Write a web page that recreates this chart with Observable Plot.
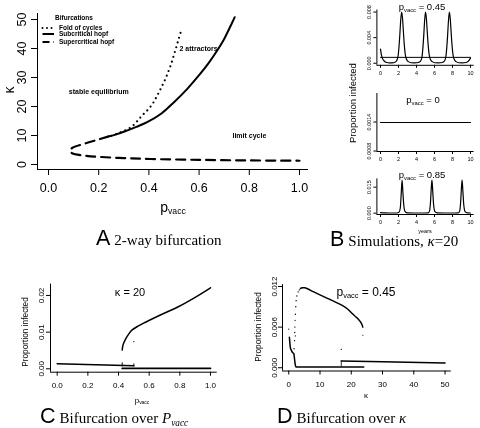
<!DOCTYPE html>
<html>
<head>
<meta charset="utf-8">
<script src="https://cdn.jsdelivr.net/npm/d3@7"></script>
<script src="https://cdn.jsdelivr.net/npm/@observablehq/plot@0.6"></script>
<style>
html,body{margin:0;padding:0;background:#fff;}
#fig{position:relative;width:480px;height:428px;overflow:hidden;background:#fff;color:#000;font-family:"Liberation Sans",Arial,sans-serif;filter:grayscale(1);}
.panel{position:absolute;}
.panel svg{overflow:visible;}
.t{position:absolute;white-space:nowrap;line-height:1;}
.cap{position:absolute;white-space:nowrap;line-height:1;display:flex;align-items:baseline;transform:translateY(-50%);}
.cap .L{font-family:"Liberation Sans",Arial,sans-serif;font-size:21.5px;margin-right:4px;}
.cap .s{font-family:"Liberation Serif","DejaVu Serif",serif;font-size:15px;}
sub{font-size:0.62em;vertical-align:-0.25em;line-height:0;}
</style>
</head>
<body>
<div id="fig"></div>
<script>
// ---------------- DATA ----------------
// Panel A: two-way bifurcation (p_vacc, kappa)
const aXTicks = [0, 0.2, 0.4, 0.6, 0.8, 1.0];
const aYTicks = [0, 10, 20, 30, 40, 50];
const foldCycles = [[0.25,9.9],[0.28,10.8],[0.31,12.0],[0.333,13.1],[0.353,14.9],[0.373,16.9],[0.393,18.6],[0.413,20.7],[0.426,22.6],[0.440,24.9],[0.453,27.2],[0.466,29.5],[0.479,32.4],[0.489,34.7],[0.499,37.6],[0.509,40.4],[0.517,42.8],[0.526,45.4]];
const subcriticalHopf = [[0.24,9.7],[0.27,10.4],[0.30,11.3],[0.35,13.0],[0.393,14.6],[0.45,17.6],[0.50,21.5],[0.553,26.1],[0.605,31.3],[0.64,35.2],[0.672,39.3],[0.70,43.3],[0.72,46.8],[0.742,50.8]];
const supercriticalHopf = [[0.24,9.7],[0.194,8.5],[0.141,7.1],[0.094,5.7],[0.085,4.8],[0.094,3.9],[0.15,3.0],[0.207,2.6],[0.3,2.2],[0.406,1.9],[0.6,1.6],[0.8,1.4],[1.0,1.3]];
const regionLabels = [
  {x: 0.522, y: 40.0, text: "2 attractors"},
  {x: 0.081, y: 25.2, text: "stable equilibrium"},
  {x: 0.733, y: 10.0, text: "limit cycle"}
];
const legendTitle = "Bifurcations";
const legendItems = ["Fold of cycles", "Subcritical hopf", "Supercritical hopf"];

// Panel B: simulations, kappa = 20 (years, proportion infected)
const yearTicks = [0, 2, 4, 6, 8, 10];
const sim045 = [[0,0.0022],[0.1,0.0013],[0.2,0.0008],[0.35,0.00045],[0.5,0.00025],[0.7,0.00012],[1.0,0.00006],[1.3,0.00006],[1.6,0.00015],[1.8,0.0004],[1.95,0.0011],[2.05,0.0025],[2.15,0.0045],[2.25,0.0068],[2.35,0.0080],[2.45,0.0070],[2.55,0.0048],[2.65,0.0028],[2.75,0.0014],[2.9,0.0006],[3.1,0.00025],[3.4,0.00008],[3.8,0.00006],[4.2,0.00012],[4.45,0.00035],[4.6,0.0009],[4.7,0.0022],[4.8,0.0042],[4.9,0.0066],[5.0,0.0080],[5.1,0.0070],[5.2,0.0048],[5.3,0.0028],[5.4,0.0014],[5.55,0.0006],[5.75,0.00025],[6.05,0.00008],[6.45,0.00006],[6.85,0.00012],[7.1,0.00035],[7.25,0.0009],[7.35,0.0022],[7.45,0.0042],[7.55,0.0066],[7.65,0.0080],[7.75,0.0070],[7.85,0.0048],[7.95,0.0028],[8.05,0.0014],[8.2,0.0006],[8.4,0.00025],[8.7,0.00008],[9.1,0.00006],[9.5,0.00012],[9.75,0.0003],[10,0.0008]];
const sim045Equilibrium = [[0,0.00092],[10,0.00092]];
const sim045YTicks = [0, 0.004, 0.008];
const sim0 = [[0,0.00139],[10,0.00139]];
const sim0YTicks = [0.0008, 0.0014];
const sim085 = [[0,0.0003],[0.5,0.00015],[1.0,0.0001],[1.8,0.0001],[2.05,0.0005],[2.2,0.003],[2.3,0.011],[2.4,0.019],[2.5,0.011],[2.6,0.004],[2.75,0.0008],[3.0,0.0002],[4.5,0.0001],[5.3,0.0002],[5.45,0.0012],[5.55,0.006],[5.65,0.015],[5.72,0.019],[5.8,0.013],[5.9,0.005],[6.05,0.0009],[6.3,0.0002],[7.8,0.0001],[8.65,0.0002],[8.8,0.0012],[8.9,0.006],[9.0,0.015],[9.07,0.019],[9.15,0.013],[9.25,0.005],[9.4,0.0009],[9.65,0.0002],[10,0.0001]];
const sim085YTicks = [0, 0.015];

// Panel C: bifurcation over p_vacc (kappa = 20)
const cXTicks = [0, 0.2, 0.4, 0.6, 0.8, 1.0];
const cYTicks = [0, 0.01, 0.02];
const cEquilibrium = [[0,0.0014],[0.25,0.0011],[0.5,0.0008]];
const cCycleMax = [[0.424,0.0051],[0.43,0.0066],[0.446,0.0081],[0.465,0.0094],[0.489,0.0106],[0.53,0.0117],[0.576,0.0127],[0.68,0.0148],[0.793,0.0170],[0.9,0.0195],[1.0,0.0221]];
const cCycleMin = [[0.424,0.0001],[1.0,0.0001]];
const cTransients = [{x:0.424, y1:0.0005, y2:0.0016},{x:0.5, y1:0.0005, y2:0.0013}];
const cStray = [[0.5,0.0074]];

// Panel D: bifurcation over kappa (p_vacc = 0.45)
const dXTicks = [0, 10, 20, 30, 40, 50];
const dYTicks = [0, 0.006, 0.012];
const dCycleMax = [[3.74,0.0117],[4.3,0.0118],[5.1,0.0118],[8,0.0112],[11.7,0.0104],[14.5,0.0098],[17.1,0.0092],[19,0.0086],[20.3,0.0080],[21.5,0.0075],[22.4,0.0071],[23.2,0.0066],[23.7,0.0060]];
const dLowBranch = [[0.2,0.0045],[0.35,0.0037],[0.5,0.0030],[0.9,0.0025],[1.3,0.0022],[1.6,0.0021],[1.9,0.0011],[2.1,0.0004],[2.36,0.0001],[24,0.0001]];
const dEquilibrium = [[16.8,0.0010],[30,0.0009],[50,0.0007]];
const dRise = [[1.7,0.0028],[1.85,0.0040],[1.92,0.0052],[1.95,0.0060],[2.02,0.0070],[2.14,0.0079],[2.25,0.0090],[2.36,0.0099],[2.6,0.0106],[3.0,0.0112],[3.4,0.0115]];
const dStray = [[0,0.0057],[2.1,0.0047],[16.8,0.0027],[23.7,0.0048]];
const dTransients = [{x:16.8, y1:0.0001, y2:0.0010}];

// ---------------- LAYOUT HELPERS ----------------
const SANS = '"Liberation Sans", Arial, sans-serif';
const fig = document.getElementById("fig");
const X = d => d[0], Y = d => d[1];

function place(node, left, top) {
  const d = document.createElement("div");
  d.className = "panel";
  d.style.left = left + "px";
  d.style.top = top + "px";
  d.appendChild(node);
  fig.appendChild(d);
}
function label(html, x, y, {size = 10, anchor = "middle", rotate = false, weight = "normal"} = {}) {
  const d = document.createElement("div");
  d.className = "t";
  d.innerHTML = html;
  d.style.left = x + "px";
  d.style.top = y + "px";
  d.style.fontSize = size + "px";
  d.style.fontWeight = weight;
  const tx = anchor === "middle" ? "-50%" : anchor === "end" ? "-100%" : "0";
  d.style.transform = rotate ? "translate(-50%,-50%) rotate(-90deg)" : `translate(${tx},-50%)`;
  fig.appendChild(d);
}
function caption(letter, html, left, cy) {
  const d = document.createElement("div");
  d.className = "cap";
  d.style.left = left + "px";
  d.style.top = cy + "px";
  d.innerHTML = `<span class="L">${letter}</span><span class="s">${html}</span>`;
  fig.appendChild(d);
}

function rPanel({width, height, margins, xDomain, yDomain, xTicks, yTicks, xFmt, yFmt, fontSize, tickSize, xPad, yPad, marks}) {
  const [t, r, b, l] = margins;
  return Plot.plot({
    width, height, marginTop: t, marginRight: r, marginBottom: b, marginLeft: l,
    x: {domain: xDomain, label: null},
    y: {domain: yDomain, label: null},
    style: {fontFamily: SANS, background: "transparent", color: "#000", overflow: "visible", fontSize: fontSize + "px"},
    marks: [
      Plot.ruleY([yDomain[0]], {stroke: "#000", strokeWidth: 1}),
      Plot.ruleX([xDomain[0]], {stroke: "#000", strokeWidth: 1}),
      Plot.axisX({ticks: xTicks, tickFormat: xFmt, tickSize, tickPadding: xPad, fontSize, label: null}),
      Plot.axisY({ticks: yTicks, tickFormat: yFmt, tickSize, tickPadding: yPad, tickRotate: -90, fontSize, label: null}),
      ...marks
    ]
  });
}

// ---------------- PANEL A ----------------
place(rPanel({
  width: 320, height: 215, margins: [13, 12, 46, 37],
  xDomain: [-0.0438, 1.0359], yDomain: [-1.724, 52.07],
  xTicks: aXTicks, yTicks: aYTicks, xFmt: d3.format(".1f"), yFmt: d3.format("d"),
  fontSize: 12.5, tickSize: 6, xPad: 8, yPad: 6,
  marks: [
    Plot.line(foldCycles, {x: X, y: Y, stroke: "#000", strokeWidth: 2.2, strokeDasharray: "0 5", strokeLinecap: "round", curve: "catmull-rom"}),
    Plot.line(subcriticalHopf, {x: X, y: Y, stroke: "#000", strokeWidth: 2, curve: "catmull-rom"}),
    Plot.line(supercriticalHopf, {x: X, y: Y, stroke: "#000", strokeWidth: 2.2, strokeDasharray: "9 6", curve: "catmull-rom"}),
    Plot.text(regionLabels, {x: "x", y: "y", text: "text", textAnchor: "start", fontWeight: "bold", fontSize: 7, fill: "#000"})
  ]
}), 0, 0);

label("κ", 9, 90, {size: 14, rotate: true});
label("p<sub>vacc</sub>", 173, 207, {size: 14});
label(legendTitle, 55, 18, {size: 6.5, anchor: "start", weight: "bold"});
const swatchDash = ["0 4.5", null, "7 4"];
legendItems.forEach((name, i) => {
  const cy = [27.7, 34.4, 41.8][i];
  const s = document.createElement("div");
  s.className = "t";
  s.style.left = "41px"; s.style.top = (cy - 2) + "px";
  s.innerHTML = `<svg width="14" height="4" style="display:block"><line x1="1.5" y1="2" x2="13" y2="2" stroke="#000" stroke-width="2" ${swatchDash[i] ? `stroke-dasharray="${swatchDash[i]}" stroke-linecap="${i === 0 ? "round" : "butt"}"` : ""}/></svg>`;
  fig.appendChild(s);
  label(name, 59, cy, {size: 6.5, anchor: "start", weight: "bold"});
});

// ---------------- PANEL B ----------------
const bX = [-0.4, 10.4];
const bCommon = {width: 140, xDomain: bX, xTicks: yearTicks, xFmt: d3.format("d"), fontSize: 5.5, tickSize: 3, xPad: 3, yPad: 2.5};
place(rPanel({...bCommon, height: 82, margins: [9.5, 6.4, 17.2, 36.4],
  yDomain: [-0.00032, 0.00832], yTicks: sim045YTicks, yFmt: d3.format(".3f"),
  marks: [
    Plot.line(sim045Equilibrium, {x: X, y: Y, stroke: "#000", strokeWidth: 1}),
    Plot.line(sim045, {x: X, y: Y, stroke: "#000", strokeWidth: 1.2, curve: "monotone-x"})
  ]}), 340, 0);
place(rPanel({...bCommon, height: 80, margins: [11, 6.4, 11, 36.4],
  yDomain: [0.00079, 0.00199], yTicks: sim0YTicks, yFmt: d3.format(".4f"),
  marks: [
    Plot.line(sim0, {x: X, y: Y, stroke: "#000", strokeWidth: 1.2})
  ]}), 340, 82);
place(rPanel({...bCommon, height: 70, margins: [13.4, 6.4, 21, 36.4],
  yDomain: [-0.00076, 0.01976], yTicks: sim085YTicks, yFmt: d3.format(".3f"),
  marks: [
    Plot.line(sim085, {x: X, y: Y, stroke: "#000", strokeWidth: 1.2, curve: "monotone-x"})
  ]}), 340, 165);

label("p<sub>vacc</sub> = 0.45", 422, 7, {size: 9.5});
label("p<sub>vacc</sub> = 0", 423, 100, {size: 9.5});
label("p<sub>vacc</sub> = 0.85", 422, 175, {size: 9.5});
label("Proportion infected", 353, 103, {size: 9.5, rotate: true});
label("years", 425, 231.5, {size: 5.5});

// ---------------- PANEL C ----------------
place(rPanel({
  width: 235, height: 175, margins: [68.6, 18.3, 18.3, 50],
  xDomain: [-0.0437, 1.0437], yDomain: [-0.00093, 0.0231],
  xTicks: cXTicks, yTicks: cYTicks, xFmt: d3.format(".1f"), yFmt: d3.format(".2f"),
  fontSize: 8, tickSize: 4, xPad: 6, yPad: 3,
  marks: [
    Plot.line(cEquilibrium, {x: X, y: Y, stroke: "#000", strokeWidth: 1.5}),
    Plot.line(cCycleMin, {x: X, y: Y, stroke: "#000", strokeWidth: 1.8}),
    Plot.line(cCycleMax, {x: X, y: Y, stroke: "#000", strokeWidth: 1.5, curve: "catmull-rom"}),
    Plot.ruleX(cTransients, {x: "x", y1: "y1", y2: "y2", stroke: "#000", strokeWidth: 1}),
    Plot.dot(cStray, {x: X, y: Y, r: 0.6, fill: "#000", stroke: null})
  ]
}), 0, 215);
label("Proportion infected", 25, 332, {size: 8.3, rotate: true});
label("κ = 20", 130, 292, {size: 11});
label("p<sub>vacc</sub>", 142, 401, {size: 8});

// ---------------- PANEL D ----------------
place(rPanel({
  width: 240, height: 175, margins: [69.1, 29.2, 19.5, 42],
  xDomain: [-2, 52], yDomain: [-0.00048, 0.01228],
  xTicks: dXTicks, yTicks: dYTicks, xFmt: d3.format("d"), yFmt: d3.format(".3f"),
  fontSize: 8, tickSize: 4, xPad: 6, yPad: 1.5,
  marks: [
    Plot.line(dLowBranch, {x: X, y: Y, stroke: "#000", strokeWidth: 1.5, curve: "monotone-x"}),
    Plot.line(dEquilibrium, {x: X, y: Y, stroke: "#000", strokeWidth: 1.5}),
    Plot.line(dCycleMax, {x: X, y: Y, stroke: "#000", strokeWidth: 1.5, curve: "catmull-rom"}),
    Plot.ruleX(dTransients, {x: "x", y1: "y1", y2: "y2", stroke: "#000", strokeWidth: 0.8}),
    Plot.dot(dRise, {x: X, y: Y, r: 0.7, fill: "#000", stroke: null}),
    Plot.dot(dStray, {x: X, y: Y, r: 0.6, fill: "#000", stroke: null})
  ]
}), 240, 215);
label("Proportion infected", 258, 327, {size: 8.3, rotate: true});
label("p<sub>vacc</sub> = 0.45", 366, 292, {size: 12});
label("κ", 366, 396, {size: 8});

// ---------------- CAPTIONS ----------------
caption("A", "2-way bifurcation", 96, 239);
caption("B", "Simulations, <i>κ</i>=20", 330, 240);
caption("C", "Bifurcation over <i>P<sub>vacc</sub></i>", 40, 416.5);
caption("D", "Bifurcation over <i>κ</i>", 277, 416.5);
</script>
</body>
</html>
